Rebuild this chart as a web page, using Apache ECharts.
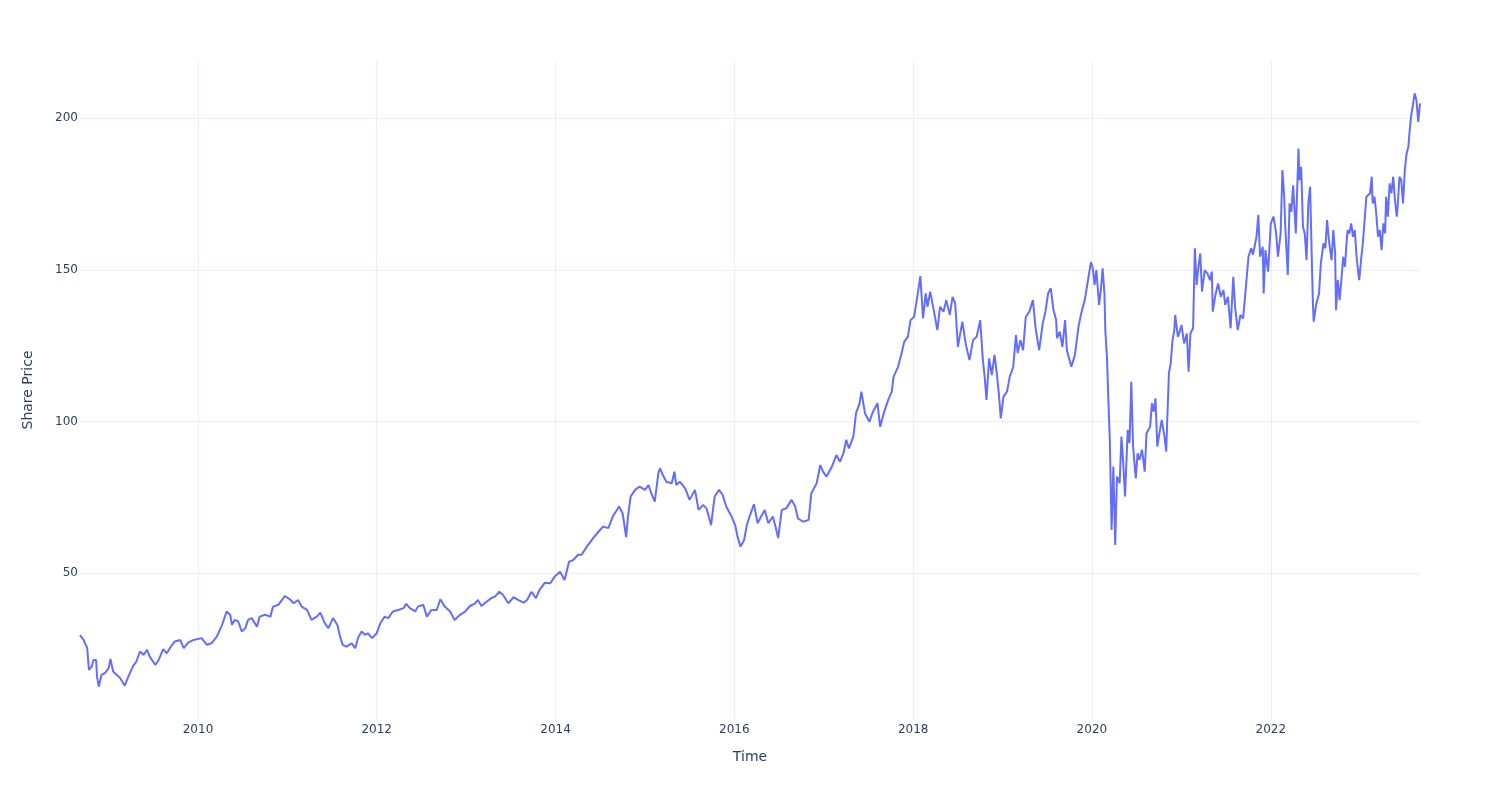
<!DOCTYPE html>
<html>
<head>
<meta charset="utf-8">
<script src="https://cdn.jsdelivr.net/npm/echarts@6/dist/echarts.min.js"></script>
<style>html,body{margin:0;padding:0;background:#fff}#c{width:1500px;height:800px}</style>
</head>
<body>
<div id="c"></div>
<script>
// Time as decimal years
const years = [
2008.68,2008.69,2008.72,2008.76,2008.78,2008.81,2008.83,2008.86,2008.87,2008.89,2008.92,2008.96,
2009.00,2009.02,2009.05,2009.09,2009.13,2009.18,2009.22,2009.27,2009.31,2009.35,2009.39,2009.43,2009.46,2009.52,2009.56,2009.61,2009.65,2009.71,2009.74,2009.80,2009.84,2009.89,2009.95,
2010.04,2010.10,2010.15,2010.21,2010.27,2010.32,2010.36,2010.38,2010.41,2010.45,2010.49,2010.53,2010.56,2010.60,2010.66,2010.69,2010.75,2010.81,2010.84,2010.90,2010.94,2010.97,
2011.03,2011.07,2011.12,2011.16,2011.22,2011.27,2011.33,2011.37,2011.42,2011.46,2011.51,2011.56,2011.59,2011.62,2011.66,2011.72,2011.76,2011.79,2011.83,2011.87,2011.90,2011.95,
2012.00,2012.04,2012.09,2012.13,2012.18,2012.24,2012.30,2012.33,2012.37,2012.43,2012.46,2012.52,2012.56,2012.61,2012.67,2012.71,2012.76,2012.82,2012.87,2012.93,2012.99,
2013.04,2013.10,2013.13,2013.17,2013.23,2013.28,2013.32,2013.37,2013.41,2013.47,2013.53,2013.58,2013.64,2013.68,2013.73,2013.78,2013.82,2013.88,2013.94,2013.99,
2014.05,2014.10,2014.15,2014.20,2014.25,2014.29,2014.35,2014.42,2014.48,2014.53,2014.59,2014.64,2014.71,2014.75,2014.79,2014.81,2014.84,2014.89,2014.94,
2015.00,2015.04,2015.07,2015.11,2015.15,2015.17,2015.20,2015.24,2015.30,2015.33,2015.35,2015.39,2015.45,2015.50,2015.56,2015.60,2015.65,2015.69,2015.74,2015.78,2015.83,2015.87,2015.91,2015.97,
2016.01,2016.04,2016.07,2016.11,2016.14,2016.17,2016.22,2016.26,2016.30,2016.34,2016.38,2016.43,2016.46,2016.49,2016.53,2016.58,2016.64,2016.68,2016.71,2016.77,2016.83,2016.86,2016.92,2016.96,2016.99,
2017.03,2017.09,2017.14,2017.18,2017.22,2017.25,2017.28,2017.33,2017.36,2017.40,2017.42,2017.46,2017.51,2017.55,2017.60,2017.63,2017.67,2017.72,2017.76,2017.78,2017.83,2017.87,2017.90,2017.94,2017.97,
2018.01,2018.04,2018.08,2018.11,2018.14,2018.16,2018.19,2018.23,2018.27,2018.30,2018.34,2018.37,2018.41,2018.44,2018.47,2018.50,2018.55,2018.59,2018.63,2018.67,2018.71,2018.75,2018.78,2018.80,2018.82,2018.85,2018.88,2018.91,2018.94,2018.96,2018.98,
2019.01,2019.05,2019.08,2019.12,2019.15,2019.17,2019.20,2019.23,2019.26,2019.30,2019.34,2019.37,2019.41,2019.45,2019.48,2019.51,2019.54,2019.57,2019.60,2019.61,2019.64,2019.67,2019.70,2019.72,2019.77,2019.81,2019.85,2019.88,2019.92,2019.96,2019.99,
2020.01,2020.03,2020.05,2020.08,2020.10,2020.12,2020.14,2020.15,2020.17,2020.18,2020.20,2020.22,2020.24,2020.26,2020.28,2020.31,2020.33,2020.35,2020.37,2020.40,2020.42,2020.44,2020.46,2020.49,2020.51,2020.53,2020.56,2020.59,2020.61,2020.65,2020.67,2020.69,2020.71,2020.73,2020.76,2020.78,2020.81,2020.83,2020.84,2020.86,2020.88,2020.90,2020.92,2020.93,2020.96,2020.98,
2021.00,2021.03,2021.06,2021.08,2021.10,2021.13,2021.15,2021.17,2021.19,2021.21,2021.23,2021.26,2021.29,2021.32,2021.34,2021.35,2021.38,2021.41,2021.44,2021.47,2021.49,2021.52,2021.55,2021.58,2021.60,2021.63,2021.66,2021.69,2021.72,2021.75,2021.78,2021.80,2021.84,2021.86,2021.88,2021.91,2021.92,2021.94,2021.97,
2022.00,2022.03,2022.06,2022.08,2022.11,2022.13,2022.15,2022.16,2022.19,2022.21,2022.23,2022.25,2022.28,2022.31,2022.32,2022.34,2022.36,2022.38,2022.40,2022.42,2022.44,2022.46,2022.47,2022.48,2022.51,2022.54,2022.56,2022.59,2022.61,2022.63,2022.65,2022.68,2022.70,2022.72,2022.73,2022.75,2022.77,2022.79,2022.81,2022.83,2022.85,2022.86,2022.88,2022.90,2022.92,2022.94,2022.96,2022.98,2022.99,
2023.01,2023.03,2023.05,2023.07,2023.09,2023.11,2023.13,2023.14,2023.16,2023.18,2023.20,2023.22,2023.24,2023.26,2023.28,2023.29,2023.31,2023.33,2023.35,2023.37,2023.39,2023.41,2023.42,2023.44,2023.46,2023.48,2023.50,2023.52,2023.54,2023.55,2023.57,2023.59,2023.61,2023.63,2023.65,2023.67
];
const prices = [
29.5,29.2,27.9,25.3,18,19.1,21.3,21.3,15.8,12.5,16.4,17,
18.6,21.6,17.5,16.4,15.3,12.8,15.8,19.1,20.8,24.1,23,24.6,22.4,19.7,21.3,24.9,23.5,26.3,27.4,27.9,25.2,27,27.9,
28.5,26.3,26.8,29,32.9,37.3,36.2,32.9,34.5,34,30.7,31.8,34.5,35.1,32.3,35.6,36.2,35.6,38.9,39.5,41.1,42.4,
41.3,40,41.1,38.9,37.8,34.5,35.6,36.9,33.4,31.8,35.1,32.9,29,26.3,25.7,26.8,25.2,28.5,30.7,29.6,30.1,28.5,
30.1,33.4,35.6,35.1,37.3,37.8,38.4,39.8,38.4,37.3,38.9,39.5,35.6,37.8,37.8,41.3,38.9,37.3,34.5,36.2,37.3,
39.1,40,41.1,39.1,40.6,41.7,42.2,43.8,42.8,40,42,41.1,40.2,41.1,43.8,41.7,44.4,46.8,46.6,48.8,
50.4,47.7,53.7,54.3,56,56,58.7,61.5,63.6,65.3,64.8,68.6,71.9,69.7,61.8,68.6,75.2,77.4,78.5,
77.4,79,76.3,73.5,82.9,84.5,82.3,80.1,79.6,83.4,79,80.1,77.9,74.1,77.4,70.8,72.4,71.3,65.8,75.2,77.4,75.7,71.9,68.6,
65.8,61.5,58.7,60.9,65.8,68.6,72.7,66.4,68.6,70.8,66.4,68.6,65.3,61.5,70.8,71.3,74.1,71.9,68,66.9,67.5,76.3,79.6,85.6,83.4,
81.8,85.1,88.9,86.7,89.5,93.9,91.1,95,102.7,106,109.8,102.7,99.9,103.2,106,98.2,102.7,107.1,109.8,114.7,118,122.5,126.3,127.9,133.4,
134.5,140,147.9,134,142.2,137.8,142.8,136.7,130.1,137.8,136.2,140,135.1,141.1,138.9,124.6,132.9,125.2,120.2,126.8,127.9,133.4,120.2,114.7,107.1,120.8,115.3,121.9,114.7,108.7,101,
108.1,109.8,114.7,118,128.5,122.5,126.8,123.5,134.5,136.2,140,130.7,123.5,132.3,136.2,142.2,143.9,136.7,133.4,127.4,129.6,124.6,133.4,123.5,118,121.9,131.2,135.6,140,147.2,152.6,
150.5,145,149.9,138.4,143.3,150.5,142.2,130.1,120.2,110.4,93.9,64.2,85.1,59.2,81.8,79.6,95,86.2,75.2,97.2,92.8,113.1,91.7,81.2,89.5,87.3,90.6,83.4,96.1,98.2,106,103.2,107.6,91.7,97.2,100.5,95,90,99.4,115.9,119.2,126.8,130.1,135.1,127.9,129.6,
131.8,125.7,129,116.4,129,130.7,157.1,145,151,155.4,142.8,149.9,148.8,146.6,149.4,136.2,141.7,145.5,141.1,143.3,138.4,141.1,130.7,147.7,137.8,130.1,135.1,134,143.9,154.3,157.1,155,160.9,168.1,154.3,157.6,142.2,156.5,149.4,
165.3,167.5,162,154.3,162,182.9,174.1,165.3,148.3,171.9,169.1,177.9,162,190,179.6,184,164.2,162,153.2,171.9,177.4,152.1,140,132.9,138.9,142.2,152.1,158.7,157.1,166.4,159.8,153.2,163.1,155.4,136.7,146.6,140,146.6,154.3,151,159.8,163.1,162,165.3,160.9,163.1,154.3,148.8,146.6,
153.2,158.7,166.4,174.1,173.6,175.2,180.7,171.9,174.1,168.6,160.9,163.1,156.5,165.3,162,174.1,167.5,178.5,175.2,180.7,173,167.5,170.8,180.7,179.6,171.9,182.9,188.4,190.6,194.4,200.5,204.3,208.2,206,198.8,204.9
];
const xTitle = 'Time';
const yTitle = 'Share Price';

function yearToMs(y) {
  const Y = Math.floor(y);
  const a = Date.UTC(Y, 0, 1), b = Date.UTC(Y + 1, 0, 1);
  return a + (y - Y) * (b - a);
}
const data = years.map((y, i) => [yearToMs(y), prices[i]]);

const font = 'DejaVu Sans';
const txt = '#2a3f5f';
const grid = '#ebf0f8';
const chart = echarts.init(document.getElementById('c'), null, {renderer: 'canvas'});
chart.setOption({
  animation: false,
  useUTC: true,
  backgroundColor: '#fff',
  textStyle: {fontFamily: font},
  grid: {left: 80, right: 80, top: 60, bottom: 80, containLabel: false},
  xAxis: {
    type: 'time',
    min: 'dataMin', max: 'dataMax',
    splitNumber: 8,
    name: xTitle, nameLocation: 'middle', nameGap: 30,
    nameTextStyle: {fontFamily: font, fontSize: 14, color: txt},
    axisLine: {show: false}, axisTick: {show: false},
    axisLabel: {formatter: '{yyyy}', fontFamily: font, fontSize: 12, color: txt, margin: 4,
                showMinLabel: false, showMaxLabel: false, hideOverlap: false},
    splitLine: {show: true, showMinLine: false, showMaxLine: false, lineStyle: {color: grid, width: 1}}
  },
  yAxis: {
    type: 'value',
    min: 1.5, max: 219.2,
    splitNumber: 5,
    name: yTitle, nameLocation: 'middle', nameGap: 45,
    nameTextStyle: {fontFamily: font, fontSize: 14, color: txt},
    axisLine: {show: false}, axisTick: {show: false},
    axisLabel: {fontFamily: font, fontSize: 12, color: txt, margin: 2,
                showMinLabel: false, showMaxLabel: false},
    splitLine: {show: true, showMinLine: false, showMaxLine: false, lineStyle: {color: grid, width: 1}}
  },
  series: [{
    type: 'line',
    data: data,
    showSymbol: false,
    symbol: 'none',
    sampling: null,
    lineStyle: {color: '#636efa', width: 2},
    itemStyle: {color: '#636efa'}
  }]
});
</script>
</body>
</html>
